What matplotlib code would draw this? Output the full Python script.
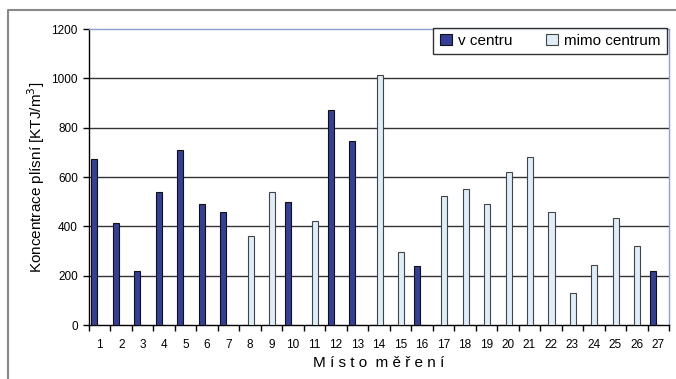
import matplotlib.pyplot as plt
import numpy as np
from matplotlib.lines import Line2D

plt.rcParams['font.family'] = ['Liberation Sans Narrow', 'Liberation Sans', 'DejaVu Sans']

# measured mould concentrations per site (KTJ/m3), one group per site
mista = list(range(1, 28))
v_centru = [675, 415, 220, 540, 710, 490, 460, 0, 0, 500, 0, 870, 745, 0,
            0, 240, 0, 0, 0, 0, 0, 0, 0, 0, 0, 0, 220]
mimo_centrum = [0, 0, 0, 0, 0, 0, 0, 360, 540, 0, 420, 0, 0, 1015,
                295, 0, 525, 550, 490, 620, 680, 460, 130, 245, 435, 320, 0]
yticks = [0, 200, 400, 600, 800, 1000, 1200]

dark = '#333f99'
light = '#ddeef9'

fig = plt.figure(figsize=(6.76, 3.79), dpi=100)
ax = fig.add_axes([89/676, 54/379, 580/676, 296/379])

x = np.array(mista)
w = 0.28
ax.bar(x - 0.25, v_centru, width=w, color=dark, edgecolor='#111111', linewidth=0.8,
       label='v centru', zorder=3)
ax.bar(x + 0.03, mimo_centrum, width=w, color=light, edgecolor='#444444', linewidth=0.8,
       label='mimo centrum', zorder=3)

ax.set_xlim(0.5, 27.5)
ax.set_ylim(0, 1200)

# gridlines
for v in yticks[1:-1]:
    ax.axhline(v, color='#333333', linewidth=1, zorder=1)

# ticks: x marks between categories, labels at centres
ax.set_xticks(np.arange(0.5, 28, 1))
ax.set_xticklabels([])
ax.set_xticks(x, minor=True)
ax.set_xticklabels([str(m) for m in mista], minor=True, fontsize=8.5)
ax.tick_params(axis='x', which='major', direction='out', length=4, width=1)
ax.tick_params(axis='x', which='minor', length=0, pad=10)
ax.set_yticks(yticks)
ax.set_yticklabels([str(v) for v in yticks], fontsize=8.5)
ax.tick_params(axis='y', direction='out', length=4, width=1, pad=4)

for s in ['left', 'bottom']:
    ax.spines[s].set_color('black')
    ax.spines[s].set_linewidth(1)
for s in ['top', 'right']:
    ax.spines[s].set_color('#8d9fd0')
    ax.spines[s].set_linewidth(1)

ax.set_xlabel('M í s t o  m ě ř e n í', fontsize=11, labelpad=4)
ax.set_ylabel('Koncentrace plísní [KTJ/m$^3$]', fontsize=11, labelpad=3)

leg = ax.legend(loc='upper right', bbox_to_anchor=(0.9965, 1.005), ncol=2, fontsize=11,
                frameon=True, fancybox=False, edgecolor='black', handlelength=0.8,
                handleheight=0.8, handletextpad=0.4, columnspacing=2.2,
                borderpad=0.4, borderaxespad=0)
leg.get_frame().set_linewidth(1)
leg.set_zorder(5)

# outer frame of the chart area
fig.add_artist(Line2D([8/676, 8/676, 1], [0, 1 - 10/379, 1 - 10/379],
                      transform=fig.transFigure, color='#888888', linewidth=1.5))

fig.savefig('out.png', dpi=100)
